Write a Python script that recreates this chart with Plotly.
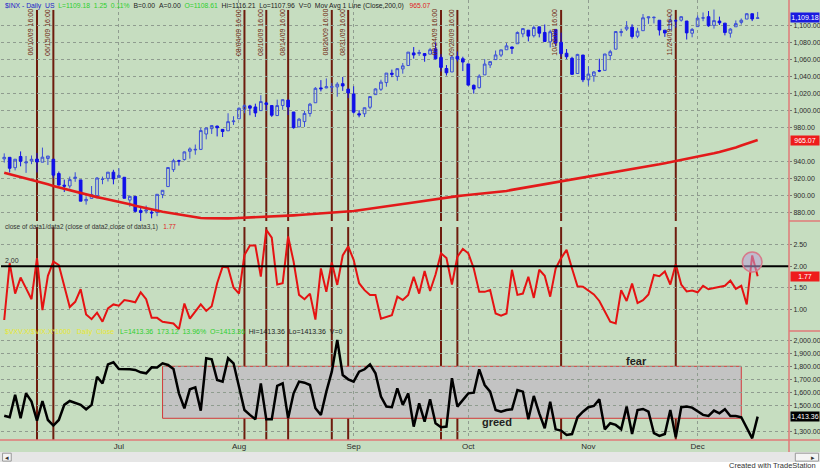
import plotly.graph_objects as go
from plotly.subplots import make_subplots

dates = [
    "2009-06-02", "2009-06-03", "2009-06-04", "2009-06-05", "2009-06-08", "2009-06-09", "2009-06-10",
    "2009-06-11", "2009-06-12", "2009-06-15", "2009-06-16", "2009-06-17", "2009-06-18", "2009-06-19",
    "2009-06-22", "2009-06-23", "2009-06-24", "2009-06-25", "2009-06-26", "2009-06-29", "2009-06-30",
    "2009-07-01", "2009-07-02", "2009-07-06", "2009-07-07", "2009-07-08", "2009-07-09", "2009-07-10",
    "2009-07-13", "2009-07-14", "2009-07-15", "2009-07-16", "2009-07-17", "2009-07-20", "2009-07-21",
    "2009-07-22", "2009-07-23", "2009-07-24", "2009-07-27", "2009-07-28", "2009-07-29", "2009-07-30",
    "2009-07-31",
    "2009-08-03", "2009-08-04", "2009-08-05", "2009-08-06", "2009-08-07", "2009-08-10", "2009-08-11",
    "2009-08-12", "2009-08-13", "2009-08-14", "2009-08-17", "2009-08-18", "2009-08-19", "2009-08-20",
    "2009-08-21", "2009-08-24", "2009-08-25", "2009-08-26", "2009-08-27", "2009-08-28", "2009-08-31",
    "2009-09-01", "2009-09-02", "2009-09-03", "2009-09-04", "2009-09-08", "2009-09-09", "2009-09-10",
    "2009-09-11", "2009-09-14", "2009-09-15", "2009-09-16", "2009-09-17", "2009-09-18", "2009-09-21",
    "2009-09-22", "2009-09-23", "2009-09-24", "2009-09-25", "2009-09-28", "2009-09-29", "2009-09-30",
    "2009-10-01", "2009-10-02", "2009-10-05", "2009-10-06", "2009-10-07", "2009-10-08", "2009-10-09",
    "2009-10-12", "2009-10-13", "2009-10-14", "2009-10-15", "2009-10-16", "2009-10-19", "2009-10-20",
    "2009-10-21", "2009-10-22", "2009-10-23", "2009-10-26", "2009-10-27", "2009-10-28", "2009-10-29",
    "2009-10-30",
    "2009-11-02", "2009-11-03", "2009-11-04", "2009-11-05", "2009-11-06", "2009-11-09", "2009-11-10",
    "2009-11-11", "2009-11-12", "2009-11-13", "2009-11-16", "2009-11-17", "2009-11-18", "2009-11-19",
    "2009-11-20", "2009-11-23", "2009-11-24", "2009-11-25", "2009-11-27", "2009-11-30",
    "2009-12-01", "2009-12-02", "2009-12-03", "2009-12-04", "2009-12-07", "2009-12-08", "2009-12-09",
    "2009-12-10", "2009-12-11", "2009-12-14", "2009-12-15", "2009-12-16",
]

price_open = [
    942.9, 944.7, 932.5, 945.7, 938.1, 940.4, 942.7, 939.0, 943.4, 942.5,
    925.6, 911.9, 910.9, 919.9, 918.1, 893.5, 896.3, 899.5, 918.8, 919.9, 927.2,
    920.8, 921.2, 894.3, 898.6, 881.9, 881.3, 880.0, 879.6, 900.8, 910.2,
    930.2, 940.6, 942.1, 951.9, 953.4, 954.1, 972.2, 978.6, 981.5, 977.7, 976.0, 986.8,
    990.2, 1001.4, 1005.4, 1004.1, 999.8, 1008.9, 1005.8, 994.0, 1005.9, 1012.2,
    998.2, 980.6, 986.9, 996.4, 1009.1, 1026.6, 1026.6, 1027.4, 1027.8, 1031.6, 1025.2,
    1019.5, 996.1, 996.1, 1003.8, 1018.7, 1025.0, 1032.9, 1043.9, 1040.2, 1049.0,
    1053.0, 1067.9, 1067.1, 1067.1, 1066.4, 1072.7, 1062.6, 1049.5, 1045.4, 1063.7, 1061.0,
    1054.9, 1029.7, 1026.9, 1042.0, 1053.7, 1060.0, 1065.3, 1071.6, 1074.9, 1078.7,
    1090.4, 1094.7, 1088.2, 1098.6, 1092.0, 1080.9, 1095.6, 1080.4, 1067.5, 1061.5, 1043.6, 1065.4,
    1036.2, 1040.9, 1047.1, 1047.3, 1064.9, 1072.3, 1091.9, 1096.0, 1098.3, 1087.6,
    1094.1, 1109.2, 1109.4, 1106.4, 1094.7, 1094.9, 1105.8, 1106.5, 1105.5, 1091.1,
    1098.9, 1109.0, 1110.6, 1100.4, 1105.5, 1103.0, 1091.1, 1098.7, 1103.9, 1107.8, 1114.1, 1108.6,
]
price_high = [
    949.4, 944.7, 942.5, 951.7, 946.3, 946.9, 949.8, 956.2, 946.3, 942.5,
    928.0, 918.4, 922.0, 927.1, 918.1, 898.7, 910.9, 921.4, 922.0, 927.1, 930.0,
    931.9, 921.2, 898.7, 898.6, 886.8, 887.9, 883.6, 901.1, 905.8, 933.0,
    943.0, 941.9, 951.6, 956.5, 959.8, 979.4, 979.8, 982.5, 982.2, 977.8, 996.7, 993.2,
    1003.6, 1007.1, 1006.6, 1008.0, 1018.0, 1010.1, 1005.8, 1012.8, 1013.1, 1012.6,
    998.2, 991.2, 999.6, 1008.9, 1027.6, 1035.8, 1037.8, 1032.5, 1033.3, 1039.5, 1025.2,
    1028.5, 1000.3, 1003.4, 1016.5, 1026.1, 1036.3, 1044.1, 1048.2, 1049.7, 1056.0,
    1068.8, 1074.8, 1071.5, 1067.3, 1073.8, 1080.2, 1066.3, 1053.5, 1065.1, 1069.6, 1063.4,
    1054.9, 1030.6, 1042.6, 1060.6, 1058.0, 1070.7, 1071.5, 1079.5, 1075.3, 1093.2,
    1096.6, 1094.7, 1100.2, 1098.6, 1101.4, 1095.2, 1095.8, 1091.8, 1072.5, 1063.3, 1066.8, 1065.4,
    1052.2, 1046.4, 1061.0, 1066.7, 1071.5, 1093.2, 1096.4, 1105.4, 1101.7, 1097.6,
    1113.7, 1110.5, 1111.1, 1106.4, 1094.7, 1112.4, 1107.6, 1111.2, 1105.5, 1097.2,
    1112.3, 1115.6, 1117.3, 1119.1, 1110.7, 1103.0, 1097.0, 1106.2, 1108.5, 1114.8, 1114.1, 1116.2,
]
price_low = [
    938.5, 926.9, 929.3, 934.1, 926.4, 936.7, 926.9, 939.0, 935.7, 919.7,
    911.6, 903.8, 908.0, 915.8, 893.0, 888.9, 896.3, 896.3, 913.0, 916.2, 912.9,
    920.8, 896.4, 886.4, 879.9, 869.3, 878.5, 872.8, 875.3, 896.5, 910.2,
    927.5, 934.9, 940.9, 943.2, 947.8, 953.3, 965.9, 972.3, 969.4, 968.7, 976.0, 982.9,
    990.2, 996.7, 994.3, 992.4, 999.8, 1000.1, 992.4, 993.4, 1000.8, 994.6,
    978.5, 980.6, 980.6, 992.7, 1009.1, 1022.5, 1026.2, 1021.6, 1016.2, 1023.1, 1014.6,
    996.3, 991.9, 992.3, 1001.6, 1018.7, 1023.0, 1028.0, 1039.3, 1035.0, 1043.4,
    1052.9, 1061.2, 1064.3, 1057.5, 1066.4, 1060.4, 1045.9, 1041.2, 1045.4, 1057.8, 1046.5,
    1029.5, 1019.9, 1025.9, 1042.0, 1050.1, 1060.0, 1063.0, 1071.6, 1066.7, 1078.7,
    1086.4, 1081.5, 1086.1, 1086.2, 1080.8, 1074.3, 1075.5, 1063.3, 1060.6, 1042.2, 1043.6, 1033.4,
    1029.4, 1033.9, 1045.2, 1047.3, 1059.3, 1072.3, 1087.4, 1093.8, 1084.7, 1085.3,
    1094.1, 1102.2, 1102.7, 1088.4, 1086.8, 1094.9, 1097.6, 1104.8, 1083.7, 1086.3,
    1098.9, 1105.3, 1098.7, 1096.5, 1100.8, 1088.6, 1085.9, 1098.7, 1101.3, 1107.8, 1105.4, 1108.0,
]
price_close = [
    944.7, 931.8, 942.5, 940.1, 939.1, 942.4, 939.2, 944.9, 946.2, 923.7,
    912.0, 910.7, 918.4, 921.2, 893.0, 895.1, 900.9, 920.3, 918.9, 927.2, 919.3,
    923.3, 896.4, 898.7, 881.0, 879.6, 882.7, 879.1, 901.1, 905.8, 932.7,
    940.7, 940.4, 951.1, 954.6, 954.1, 976.3, 979.3, 982.2, 979.6, 975.2, 986.8, 987.5,
    1002.6, 1005.7, 1002.7, 997.1, 1010.5, 1007.1, 994.4, 1005.8, 1012.7, 1004.1,
    979.7, 989.7, 996.5, 1007.4, 1026.1, 1025.6, 1028.0, 1028.1, 1031.0, 1028.9, 1020.6,
    998.0, 994.8, 1003.2, 1016.4, 1025.4, 1033.4, 1044.1, 1042.7, 1049.3, 1052.6,
    1068.8, 1065.5, 1068.3, 1064.7, 1071.7, 1060.9, 1050.8, 1044.4, 1063.0, 1060.6, 1057.1,
    1029.9, 1025.2, 1040.5, 1054.7, 1057.6, 1065.5, 1071.5, 1076.2, 1073.2, 1092.0,
    1096.6, 1087.7, 1097.9, 1091.1, 1081.4, 1092.9, 1079.6, 1067.0, 1063.4, 1042.6, 1066.1, 1036.2,
    1042.9, 1045.4, 1046.5, 1066.6, 1069.3, 1093.1, 1093.0, 1098.5, 1087.2, 1093.5,
    1109.3, 1110.3, 1109.8, 1094.9, 1091.4, 1106.2, 1105.7, 1110.6, 1091.5, 1095.6,
    1108.9, 1109.2, 1099.9, 1106.0, 1103.3, 1091.9, 1096.0, 1102.4, 1106.4, 1114.1, 1107.9, 1109.2,
]
mov_avg_200 = [
    926.5, 924.9, 923.3, 921.7, 920.1, 918.6, 917.0, 915.0, 913.0, 911.0,
    909.3, 907.5, 905.8, 904.0, 902.2, 900.5, 899.2, 897.8, 896.5, 895.2,
    893.8, 892.5, 890.9, 889.3, 887.6, 886.0, 884.6, 883.2, 881.9, 880.5,
    879.4, 878.3, 877.2, 876.1, 875.0, 874.0, 873.2, 872.9, 872.7, 872.6,
    872.6, 872.7, 872.9, 873.2, 873.5, 873.9, 874.0, 874.1, 874.2, 874.3,
    874.8, 875.3, 875.8, 876.3, 876.7, 877.1, 877.5, 877.9, 878.3, 878.6,
    879.0, 879.4, 880.0, 880.7, 881.4, 882.4, 883.4, 884.4, 885.4, 886.3,
    887.2, 888.0, 888.9, 889.7, 890.5, 891.5, 892.6, 893.6, 894.7, 895.7,
    896.8, 897.5, 898.2, 899.0, 899.6, 900.3, 900.9, 901.5, 902.1, 902.8,
    903.4, 904.0, 905.1, 906.3, 907.4, 908.5, 909.6, 910.8, 911.9, 913.0,
    914.2, 915.4, 916.7, 917.7, 918.7, 919.8, 920.8, 921.8, 922.8, 923.8,
    924.9, 925.9, 927.0, 928.1, 929.2, 930.4, 931.5, 932.8, 934.0, 935.3,
    936.5, 937.8, 939.1, 940.4, 941.6, 942.7, 943.9, 945.0, 946.5, 948.1,
    949.6, 951.1, 952.7, 954.2, 956.4, 958.6, 960.8, 963.0, 965.1,
]
ratio = [
    0.76, 2.07, 1.37, 1.74, 1.49, 1.24, 2.19, 0.99, 1.78, 2.11,
    2.03, 1.51, 1.06, 1.18, 1.47, 0.89, 0.78, 0.93, 0.72, 1.03,
    1.12, 1.09, 1.22, 1.20, 1.17, 1.40, 1.24, 0.81, 0.81, 0.72,
    0.70, 0.68, 0.55, 1.14, 0.79, 0.96, 1.12, 0.97, 1.08, 1.61,
    1.99, 1.97, 1.51, 1.37, 2.26, 2.48, 2.48, 1.76, 2.84, 2.66,
    1.58, 1.61, 2.69, 2.11, 1.34, 1.24, 1.37, 0.77, 1.95, 1.41,
    2.09, 1.57, 2.25, 2.46, 2.15, 1.61, 1.45, 1.34, 1.34, 0.79,
    0.83, 0.87, 1.30, 1.22, 1.34, 1.76, 1.37, 1.89, 1.43, 1.81,
    2.30, 2.19, 1.58, 2.22, 2.40, 2.30, 1.95, 1.41, 1.41, 1.45,
    0.91, 0.86, 0.91, 1.92, 1.34, 1.37, 1.76, 1.27, 1.92, 1.78,
    1.30, 1.95, 2.19, 2.38, 1.95, 1.54, 1.53, 1.45, 1.35, 1.20,
    0.95, 0.72, 0.68, 1.45, 1.20, 1.60, 1.15, 1.22, 1.35, 1.80,
    1.77, 1.88, 1.58, 2.05, 1.58, 1.42, 1.44, 1.40, 1.55, 1.47,
    1.50, 1.52, 1.55, 1.67, 1.48, 1.55, 1.12, 2.25, 1.77,
]
sentiment = [
    1420, 1408, 1580, 1400, 1592, 1528, 1382, 1533, 1387, 1344,
    1387, 1503, 1533, 1515, 1503, 1469, 1503, 1720, 1669, 1815,
    1831, 1779, 1779, 1777, 1772, 1754, 1746, 1792, 1790, 1823,
    1810, 1779, 1592, 1477, 1623, 1638, 1459, 1862, 1854, 1695,
    1682, 1862, 1823, 1631, 1464, 1426, 1392, 1669, 1392, 1392,
    1649, 1669, 1400, 1592, 1682, 1674, 1656, 1477, 1426, 1605,
    1759, 2003, 1733, 1700, 1682, 1759, 1777, 1815, 1746, 1567,
    1490, 1485, 1631, 1503, 1592, 1336, 1515, 1374, 1546, 1362,
    1331, 1336, 1708, 1490, 1541, 1592, 1597, 1777, 1656, 1605,
    1464, 1451, 1464, 1469, 1618, 1605, 1392, 1572, 1438, 1323,
    1528, 1315, 1305, 1272, 1279, 1408, 1451, 1485, 1495, 1546,
    1315, 1362, 1349, 1315, 1490, 1279, 1464, 1472, 1451, 1285,
    1264, 1279, 1464, 1254, 1485, 1490, 1482, 1451, 1426, 1418,
    1459, 1438, 1469, 1418, 1418, 1408, 1323, 1246, 1413,
]

month_ticks = ["2009-07-01", "2009-08-03", "2009-09-01", "2009-10-01", "2009-11-02", "2009-12-01"]
month_labels = ["Jul", "Aug", "Sep", "Oct", "Nov", "Dec"]
marker_dates = ["2009-06-10", "2009-06-15", "2009-08-04", "2009-08-10", "2009-08-14", "2009-08-26",
                "2009-08-31", "2009-09-24", "2009-09-29", "2009-10-26", "2009-11-24"]
price_ticks = [880, 900, 920, 940, 980, 1000, 1020, 1040, 1060, 1080, 1100]
ratio_ticks = [1.0, 1.5, 2.0, 2.5]
sent_ticks = [1300, 1500, 1600, 1700, 1800, 1900, 2000]
ratio_level = 2.0
zone_start, zone_end = "2009-07-14", "2009-12-11"
zone_low, zone_high = 1400, 1800
highlight_date = "2009-12-15"
highlight_value = 2.1

BG = "#c6ddc0"
GRID = "#8f9c8f"
VLINE = "#6e1c0e"
FONT = "Liberation Sans, Arial, sans-serif"
TXT = "#2a2a2a"

fig = make_subplots(rows=3, cols=1, shared_xaxes=True, vertical_spacing=0)

fig.add_trace(go.Candlestick(
    x=dates, open=price_open, high=price_high, low=price_low, close=price_close,
    increasing=dict(line=dict(color="#3b4ed8", width=1), fillcolor="rgba(0,0,0,0)"),
    decreasing=dict(line=dict(color="#1010e8", width=1), fillcolor="#1010e8"),
    whiskerwidth=0, hoverinfo="skip", showlegend=False), row=1, col=1)
fig.add_trace(go.Scatter(x=dates, y=mov_avg_200, mode="lines",
                         line=dict(color="#e31a1a", width=2.6), hoverinfo="skip",
                         showlegend=False), row=1, col=1)
fig.add_trace(go.Scatter(x=dates, y=ratio, mode="lines",
                         line=dict(color="#e51212", width=2), hoverinfo="skip",
                         showlegend=False), row=2, col=1)
fig.add_trace(go.Scatter(x=dates, y=sentiment, mode="lines",
                         line=dict(color="#000000", width=2.5), hoverinfo="skip",
                         showlegend=False), row=3, col=1)

# pixel geometry of the plot area: 788 x 440 px
xrange = [-0.59, 143.74]
for i, ax in enumerate(["xaxis", "xaxis2", "xaxis3"]):
    fig.layout[ax].update(
        type="category", range=xrange, rangeslider=dict(visible=False), automargin=False,
        tickmode="array", tickvals=month_ticks, ticktext=month_labels,
        showticklabels=(i == 2), ticks="", showgrid=True, gridcolor=GRID,
        griddash="dot", gridwidth=1, showline=False, zeroline=False,
        tickfont=dict(family=FONT, size=8, color=TXT))

axis_common = dict(side="right", showgrid=True, gridcolor=GRID, griddash="dot", gridwidth=1,
                   zeroline=False, showline=False, ticks="outside", ticklen=2, tickcolor="#777",
                   automargin=False,
                   tickfont=dict(family=FONT, size=7, color=TXT), tickmode="array")
fig.update_layout(
    yaxis=dict(domain=[0.4977, 1.0], range=[869.6, 1130.3], tickvals=price_ticks,
               tickformat=",.2f", **axis_common),
    yaxis2=dict(domain=[0.2477, 0.4977], range=[0.506, 3.046], tickvals=ratio_ticks,
                tickformat=".2f", **axis_common),
    yaxis3=dict(domain=[0.0, 0.2477], range=[1233, 2071.5], tickvals=sent_ticks,
                tickformat=",.2f", **axis_common),
)

shapes = []
# fear / greed zone
shapes.append(dict(type="rect", xref="x3", yref="y3", x0=zone_start, x1=zone_end,
                   y0=zone_low, y1=zone_high, fillcolor="#c3c3c3",
                   line=dict(color="#d23a3a", width=1), layer="below"))
# vertical marker lines
for d in marker_dates:
    shapes.append(dict(type="line", xref="x", yref="y domain", x0=d, x1=d, y0=0, y1=0.955,
                       line=dict(color=VLINE, width=2), layer="below"))
    shapes.append(dict(type="line", xref="x2", yref="y2 domain", x0=d, x1=d, y0=0, y1=0.945,
                       line=dict(color=VLINE, width=2), layer="below"))
    shapes.append(dict(type="line", xref="x3", yref="y3 domain", x0=d, x1=d, y0=0, y1=1,
                       line=dict(color=VLINE, width=2), layer="below"))
# 2.00 level line
shapes.append(dict(type="line", xref="x2 domain", yref="y2", x0=0, x1=1, y0=ratio_level,
                   y1=ratio_level, line=dict(color="#000000", width=2), layer="above"))
# highlight circle
hi = dates.index(highlight_date)
shapes.append(dict(type="circle", xref="x2", yref="y2", x0=hi - 1.8, x1=hi + 1.8,
                   y0=highlight_value - 0.23, y1=highlight_value + 0.23,
                   fillcolor="rgba(185,160,215,0.55)", line=dict(color="#d77a8a", width=1.5),
                   layer="above"))
# frame pieces (paper coords, plot area = 788 x 440 px)
shapes += [
    dict(type="rect", xref="paper", yref="paper", x0=-0.01, x1=1.05, y0=-0.0273, y1=-0.05,
         fillcolor="#e6e6e6", line=dict(width=0), layer="below"),
    dict(type="rect", xref="paper", yref="paper", x0=-0.01, x1=1.05, y0=-0.05, y1=-0.09,
         fillcolor="#ffffff", line=dict(width=0), layer="below"),
    dict(type="rect", xref="paper", yref="paper", x0=0.002, x1=0.013, y0=-0.03, y1=-0.048,
         fillcolor="#f4f4f4", line=dict(color="#999", width=1), layer="above"),
    dict(type="rect", xref="paper", yref="paper", x0=1.008, x1=1.0375, y0=-0.03, y1=-0.048,
         fillcolor="#f4f4f4", line=dict(color="#999", width=1), layer="above"),
    dict(type="line", xref="paper", yref="paper", x0=1.0, x1=1.0, y0=-0.027, y1=1.0,
         line=dict(color="#e07878", width=1.5), layer="above"),
    dict(type="line", xref="paper", yref="paper", x0=-0.01, x1=1.05, y0=0, y1=0,
         line=dict(color="#e07878", width=1.5), layer="above"),
    dict(type="line", xref="paper", yref="paper", x0=1.0, x1=1.05, y0=0.4977, y1=0.4977,
         line=dict(color="#e07878", width=1.5), layer="above"),
    dict(type="line", xref="paper", yref="paper", x0=1.0, x1=1.05, y0=0.2477, y1=0.2477,
         line=dict(color="#e07878", width=1.5), layer="above"),
]

NB = "\u00a0"
annotations = []
header = (f'<span style="color:#1c1cc8">$INX - Daily{NB}{NB}US</span>{NB}{NB}'
          f'<span style="color:#2ecf2e">L=1109.18{NB}{NB}1.25{NB}{NB}0.11%</span>{NB}{NB}'
          f'<span style="color:#222">B=0.00{NB}{NB}A=0.00</span>{NB}{NB}'
          f'<span style="color:#2ecf2e">O=1108.61</span>{NB}{NB}'
          f'<span style="color:#222">Hi=1116.21{NB}{NB}Lo=1107.96{NB}{NB}V=0{NB}{NB}'
          f'Mov Avg 1 Line (Close,200,0)</span>{NB}{NB}{NB}'
          f'<span style="color:#e02020">965.07</span>')
annotations.append(dict(text=header, xref="paper", yref="paper", x=0.002, y=0.986,
                        xanchor="left", yanchor="middle", showarrow=False,
                        font=dict(family=FONT, size=6.8)))
for d in marker_dates:
    y, m, dd = d.split("-")
    annotations.append(dict(text=f"{m}/{dd}/{y[2:]} 16:00", xref="x", yref="paper", x=d,
                            y=0.927, textangle=-90, xanchor="right", yanchor="middle",
                            xshift=-1, showarrow=False,
                            font=dict(family=FONT, size=7, color=VLINE)))
annotations.append(dict(
    text=f'close of data1/data2 (close of data2,close of data3,1){NB}{NB}{NB}'
         f'<span style="color:#e02020">1.77</span>',
    xref="paper", yref="paper", x=0.002, y=0.484, xanchor="left", yanchor="middle",
    showarrow=False, font=dict(family=FONT, size=6.5, color="#333")))
annotations.append(dict(text="2.00", xref="paper", yref="y2", x=0.003, y=ratio_level,
                        xanchor="left", yanchor="bottom", showarrow=False,
                        font=dict(family=FONT, size=7, color="#333")))
annotations.append(dict(
    text=f'<span style="color:#e8e830">$VXV.X/$VIX.X*1000{NB}{NB}{NB}Daily{NB}{NB}Close</span>{NB}{NB}{NB}'
         f'<span style="color:#2ecf2e">L=1413.36{NB}{NB}173.12{NB}{NB}13.96%{NB}{NB}O=1413.36</span>{NB}{NB}'
         f'<span style="color:#222">Hi=1413.36{NB}{NB}Lo=1413.36{NB}{NB}V=0</span>',
    xref="paper", yref="paper", x=0.002, y=0.2455, xanchor="left", yanchor="middle",
    showarrow=False, font=dict(family=FONT, size=7)))
# last-value boxes on the right axis
for txt, yref, yv, bg in [("1,109.18", "y", price_close[-1], "#1a1ae0"),
                          ("965.07", "y", mov_avg_200[-1], "#ee1c1c"),
                          ("1.77", "y2", ratio[-1], "#ee1c1c"),
                          ("1,413.36", "y3", sentiment[-1], "#000000")]:
    annotations.append(dict(text=txt, xref="paper", yref=yref, x=1.0, y=yv, xanchor="left",
                            yanchor="middle", xshift=1, showarrow=False, bgcolor=bg,
                            borderpad=0, width=28, height=9, align="center",
                            font=dict(family=FONT, size=7, color="#ffffff")))
annotations.append(dict(text="<b>fear</b>", xref="paper", yref="paper", x=0.807, y=0.180,
                        xanchor="center", yanchor="middle",
                        showarrow=False, font=dict(family=FONT, size=11, color="#222")))
annotations.append(dict(text="<b>greed</b>", xref="paper", yref="paper", x=0.629, y=0.040,
                        xanchor="center", yanchor="middle",
                        showarrow=False, font=dict(family=FONT, size=11, color="#222")))
annotations.append(dict(text="Created with TradeStation", xref="paper", yref="paper",
                        x=1.0368, y=-0.059, xanchor="right", yanchor="middle",
                        showarrow=False, font=dict(family=FONT, size=7.5, color="#333")))
annotations.append(dict(text="\u25c2", xref="paper", yref="paper", x=0.0075, y=-0.039,
                        xanchor="center", yanchor="middle",
                        showarrow=False, font=dict(family=FONT, size=7, color="#333")))
annotations.append(dict(text="\u25b8", xref="paper", yref="paper", x=1.031, y=-0.039,
                        xanchor="center", yanchor="middle",
                        showarrow=False, font=dict(family=FONT, size=7, color="#333")))

fig.update_layout(
    width=820, height=471, margin=dict(l=1, r=31, t=0, b=31, autoexpand=False),
    paper_bgcolor=BG, plot_bgcolor=BG, showlegend=False,
    shapes=shapes, annotations=annotations,
    font=dict(family=FONT, size=8, color=TXT),
)

fig.write_html("out.html", config={"displayModeBar": False},
               post_script="document.body.style.margin='0px';")
